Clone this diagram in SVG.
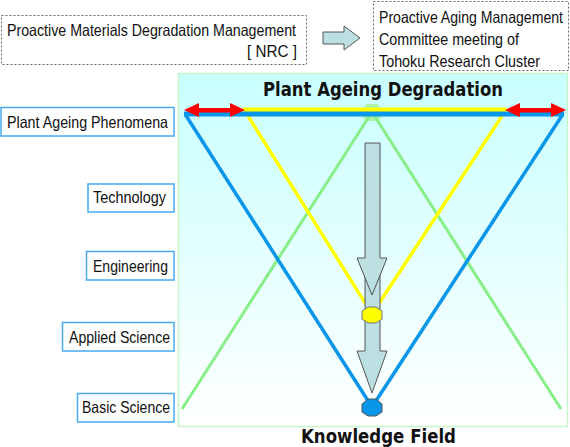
<svg xmlns="http://www.w3.org/2000/svg" width="570" height="447" viewBox="0 0 570 447">
<defs>
<linearGradient id="bg" x1="0" y1="0" x2="0" y2="1">
<stop offset="0" stop-color="#c8ffff"/>
<stop offset="1" stop-color="#ffffff"/>
</linearGradient>
<style>
.lbl{font-family:"Liberation Sans",Arial,sans-serif;font-size:16.5px;fill:#111}
.ttl{font-family:"DejaVu Sans",Verdana,sans-serif;font-size:19px;font-weight:bold;fill:#111}
.lbox{fill:#fff;stroke:#4aaaee;stroke-width:1.5}
.dbox{fill:#fff;stroke:#666;stroke-width:1;stroke-dasharray:2 2}
.blk{fill:#bcdfe2;stroke:#555;stroke-width:1}
</style>
</defs>
<rect width="570" height="447" fill="#fff"/>

<g id="nrc">
<rect class="dbox" x="1.5" y="15.5" width="305" height="49"/>
<text class="lbl" x="7" y="36" textLength="289" lengthAdjust="spacingAndGlyphs">Proactive Materials Degradation Management</text>
<text class="lbl" x="247" y="57" textLength="50" lengthAdjust="spacingAndGlyphs">[ NRC ]</text>
</g>
<g id="flow-arrow">
<polygon class="blk" points="323,32 344,32 344,26 360,38 344,50 344,44 323,44"/>
</g>
<g id="tohoku">
<rect class="dbox" x="373.5" y="1.5" width="195" height="69"/>
<text class="lbl" x="379" y="23" textLength="184" lengthAdjust="spacingAndGlyphs">Proactive Aging Management</text>
<text class="lbl" x="379" y="45" textLength="140" lengthAdjust="spacingAndGlyphs">Committee meeting of</text>
<text class="lbl" x="379" y="67" textLength="161" lengthAdjust="spacingAndGlyphs">Tohoku Research Cluster</text>
</g>

<g id="field">
<rect x="178.5" y="73.5" width="389" height="353" fill="url(#bg)" stroke="#c8f5c8" stroke-width="1.5"/>
<text class="ttl" x="263" y="96" textLength="240" lengthAdjust="spacingAndGlyphs">Plant Ageing Degradation</text>
<text class="ttl" x="301" y="443" textLength="155" lengthAdjust="spacingAndGlyphs">Knowledge Field</text>
</g>

<g id="connectors">
<polygon points="367,104 377,104 382,109 382,117 377,121 367,121 362,117 362,109" fill="#aaf5aa"/>
<line x1="372" y1="112" x2="182" y2="409" stroke="#88ee88" stroke-width="3"/>
<line x1="372" y1="112" x2="561" y2="409" stroke="#88ee88" stroke-width="3"/>
<line x1="243" y1="110" x2="507" y2="110" stroke="#ffff00" stroke-width="5"/>
<polyline points="248,116 372,314 502,116" fill="none" stroke="#ffff00" stroke-width="3.5"/>
<line x1="184" y1="114" x2="564" y2="114" stroke="#0a96e8" stroke-width="5"/>
<polyline points="185,114 372,407 563,114" fill="none" stroke="#0a96e8" stroke-width="3.5"/>
<g fill="#ff0000">
<rect x="196" y="108" width="36" height="4.5"/>
<polygon points="184,110 199,103 199,117"/>
<polygon points="245,110 230,103 230,117"/>
<rect x="518" y="108" width="36" height="4.5"/>
<polygon points="505,110 520,103 520,117"/>
<polygon points="566,110 551,103 551,117"/>
</g>
</g>

<g id="arrow-down-2">
<polygon class="blk" points="365,270 380,270 380,351 387,351 372,393 357,351 365,351"/>
</g>
<g id="arrow-down-1">
<polygon class="blk" points="365,143 380,143 380,258 387,258 372,295 357,258 365,258"/>
</g>
<g id="node-yellow">
<polygon points="368,307 376,307 382,311 382,319 376,323 368,323 362,319 362,311" fill="#ffff00" stroke="#777" stroke-width="1"/>
</g>
<g id="node-blue">
<polygon points="368,399 376,399 382,404 382,412 376,416 368,416 362,412 362,404" fill="#0a96e8" stroke="#555" stroke-width="1"/>
</g>

<g id="phenomena">
<rect class="lbox" x="1" y="107.5" width="173" height="28.5"/>
<text class="lbl" x="7" y="128" textLength="161" lengthAdjust="spacingAndGlyphs">Plant Ageing Phenomena</text>
</g>
<g id="technology">
<rect class="lbox" x="88" y="184" width="86" height="28"/>
<text class="lbl" x="93" y="203" textLength="73" lengthAdjust="spacingAndGlyphs">Technology</text>
</g>
<g id="engineering">
<rect class="lbox" x="86.5" y="251.5" width="87.5" height="28.5"/>
<text class="lbl" x="93" y="272" textLength="75" lengthAdjust="spacingAndGlyphs">Engineering</text>
</g>
<g id="applied-science">
<rect class="lbox" x="62.5" y="322.5" width="111.5" height="28.5"/>
<text class="lbl" x="69" y="343" textLength="101" lengthAdjust="spacingAndGlyphs">Applied Science</text>
</g>
<g id="basic-science">
<rect class="lbox" x="77.5" y="393.5" width="96.5" height="28.5"/>
<text class="lbl" x="82" y="413" textLength="88" lengthAdjust="spacingAndGlyphs">Basic Science</text>
</g>
</svg>
